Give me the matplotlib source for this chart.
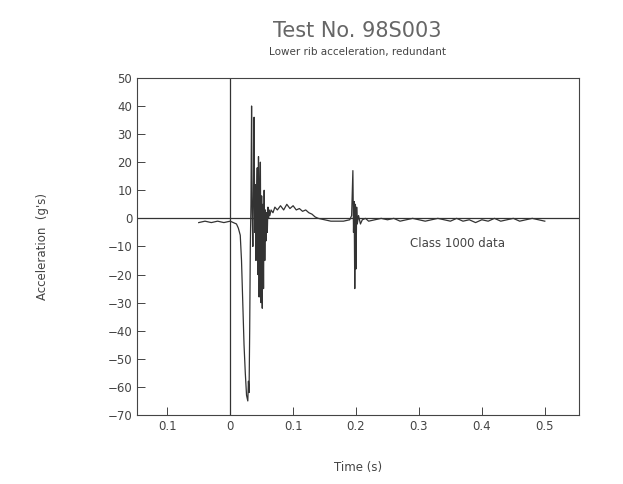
import matplotlib
matplotlib.use("Agg")
import matplotlib.pyplot as plt

time_s = [-0.050, -0.040, -0.030, -0.020, -0.010, 0.000, 0.005, 0.010, 0.013, 0.016, 0.018, 0.020,
          0.022, 0.024, 0.026, 0.028, 0.029, 0.030, 0.031, 0.032, 0.033, 0.034, 0.035, 0.036,
          0.037, 0.038, 0.039, 0.040, 0.041, 0.042, 0.043, 0.044, 0.045, 0.046, 0.047, 0.048,
          0.049, 0.050, 0.051, 0.052, 0.053, 0.054, 0.055, 0.056, 0.057, 0.058, 0.059, 0.060,
          0.061, 0.062, 0.063, 0.065, 0.068, 0.071, 0.075, 0.080, 0.085, 0.090, 0.095, 0.100,
          0.105, 0.110, 0.115, 0.120, 0.125, 0.130, 0.135, 0.140, 0.150, 0.160, 0.170, 0.180,
          0.190, 0.193, 0.195, 0.196, 0.197, 0.198, 0.199, 0.200, 0.201, 0.202, 0.204, 0.207,
          0.210, 0.215, 0.220, 0.230, 0.240, 0.250, 0.260, 0.270, 0.280, 0.290, 0.300, 0.310,
          0.320, 0.330, 0.340, 0.350, 0.360, 0.370, 0.380, 0.390, 0.400, 0.410, 0.420, 0.430,
          0.440, 0.450, 0.460, 0.470, 0.480, 0.490, 0.500]
accel_g = [-1.5, -1.0, -1.5, -1.0, -1.5, -1.0, -1.5, -2.0, -3.5, -6.0, -15.0, -30.0,
           -45.0, -55.0, -63.0, -65.0, -58.0, -62.0, -40.0, -10.0, 5.0, 40.0, 2.0, -10.0,
           8.0, 36.0, -5.0, 12.0, -15.0, 5.0, 18.0, -20.0, 22.0, -28.0, 10.0, 20.0,
           -30.0, 8.0, -32.0, 5.0, -25.0, 10.0, -15.0, 3.0, -8.0, 2.0, -5.0, 4.0,
           0.0, 3.0, 1.0, 3.0, 2.0, 4.0, 3.0, 4.5, 3.0, 5.0, 3.5, 4.5,
           3.0, 3.5, 2.5, 3.0, 2.0, 1.5, 0.5, 0.0, -0.5, -1.0, -1.0, -1.0,
           -0.5, 1.0, 17.0, -5.0, 6.0, -25.0, 5.0, -18.0, 4.0, -2.0, 1.0, -2.0,
           -0.5, 0.0, -1.0, -0.5, 0.0, -0.5, 0.0, -1.0, -0.5, 0.0, -0.5, -1.0,
           -0.5, 0.0, -0.5, -1.0, 0.0, -1.0, -0.5, -1.5, -0.5, -1.0, 0.0, -1.0,
           -0.5, 0.0, -1.0, -0.5, 0.0, -0.5, -1.0]

x_ticks = [-0.1, 0.0, 0.1, 0.2, 0.3, 0.4, 0.5]
y_ticks = [-70, -60, -50, -40, -30, -20, -10, 0, 10, 20, 30, 40, 50]

gray = "#444444"
fig = plt.figure(figsize=(6.23, 4.84), dpi=100)
ax = fig.add_axes([0.22, 0.1426, 0.709, 0.6964])
ax.plot(time_s, accel_g, color="#333333", lw=0.9)
ax.axhline(0, color="#333333", lw=0.9)
ax.axvline(0, color="#333333", lw=0.9)
ax.set_xlim(-0.148, 0.554)
ax.set_ylim(-70, 50)
ax.set_xticks(x_ticks)
ax.set_xticklabels([f"{abs(v):g}" if v != 0 else "0" for v in x_ticks])
ax.set_yticks(y_ticks)
ax.tick_params(direction="in", length=6, colors=gray, labelsize=8.5, width=0.7)
for s in ax.spines.values():
    s.set_color(gray); s.set_linewidth(0.8)
ax.set_xlabel("Time (s)", color=gray, fontsize=8.5, labelpad=20)
ax.set_ylabel("Acceleration  (g's)", color=gray, fontsize=8.5, labelpad=42)
ax.text(0.286, -9, "Class 1000 data", color=gray, fontsize=8.5, va="center")
fig.text(0.574, 0.935, "Test No. 98S003", color="#666666", fontsize=15, ha="center", va="center")
fig.text(0.574, 0.893, "Lower rib acceleration, redundant", color=gray, fontsize=7.5, ha="center", va="center")
fig.savefig("out.png", dpi=100)
